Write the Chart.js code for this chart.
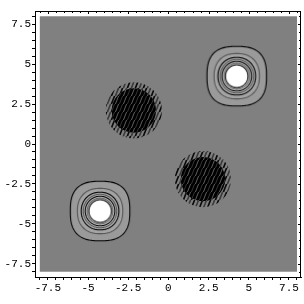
<!DOCTYPE html>
<html>
<head>
<meta charset="utf-8">
<script src="https://cdn.jsdelivr.net/npm/chart.js@4/dist/chart.umd.min.js"></script>
<style>
  body { margin: 0; background: #fff; }
</style>
</head>
<body>
<canvas id="contour_chart" width="304" height="304"></canvas>
<script>
// plotted region of the function (the grey square)
var plotRange = [-8, 8];
var tickLabels = [-7.5, -5, -2.5, 0, 2.5, 5, 7.5];

// the two maxima (white centres) and the two noisy minima
var peakX = [4.25, -4.25];
var peakY = [4.25, -4.2];
var blobX = [-2.15, 2.15];
var blobY = [2.1, -2.2];

// contour extent around each maximum, outermost first (data units)
var ringRadius = [1.85, 1.41, 1.17, 1.04, 0.92, 0.8, 0.7, 0.6];
// radius of the noisy region and its solid core
var blobRadius = [1.75, 1.38];

// styles for the rings (exponent of the rounded-square shape, 2 = circle)
var ringPower = [2.7, 2.3, 2.1, 2, 2, 2, 2, 2];
var ringFill = ['#9a9a9a', '#a4a4a4', '#aeaeae', '#b8b8b8', '#c4c4c4', '#d2d2d2', '#e4e4e4', '#ffffff'];
var ringLine = ['#000000', '#555555', '#000000', '#555555', '#000000', '#666666', '#000000', '#ffffff'];

var minorTicks = [];
for (var i = -16; i <= 16; i++) {
    minorTicks.push(i * 0.5);
}

function unitsToPx(chart, r) {
    var s = chart.scales.x;
    return Math.abs(s.getPixelForValue(r) - s.getPixelForValue(0));
}

var shapeCache = {};
function ringImage(R, n, fill, line) {
    var key = R.toFixed(2) + '_' + n + fill + line;
    if (shapeCache[key]) return shapeCache[key];
    var size = Math.ceil(2 * R) + 4;
    var c = document.createElement('canvas');
    c.width = size;
    c.height = size;
    var g = c.getContext('2d');
    var m = size / 2;
    g.beginPath();
    for (var t = 0; t <= 360; t += 2) {
        var a = t * Math.PI / 180;
        var ca = Math.cos(a), sa = Math.sin(a);
        var px = m + R * Math.sign(ca) * Math.pow(Math.abs(ca), 2 / n);
        var py = m + R * Math.sign(sa) * Math.pow(Math.abs(sa), 2 / n);
        if (t === 0) g.moveTo(px, py); else g.lineTo(px, py);
    }
    g.closePath();
    g.fillStyle = fill;
    g.fill();
    g.lineWidth = 1.1;
    g.strokeStyle = line;
    g.stroke();
    shapeCache[key] = c;
    return c;
}

function streakPattern(bg, colors, w) {
    var c = document.createElement('canvas');
    c.width = 8;
    c.height = 8;
    var g = c.getContext('2d');
    if (bg) {
        g.fillStyle = bg;
        g.fillRect(0, 0, 8, 8);
    }
    g.lineWidth = w;
    g.strokeStyle = colors[0];
    g.beginPath();
    g.moveTo(-1, 9); g.lineTo(3, -1);
    g.moveTo(7, 9); g.lineTo(11, -1);
    g.stroke();
    g.strokeStyle = colors[1];
    g.beginPath();
    g.moveTo(3, 9); g.lineTo(7, -1);
    g.stroke();
    return g.createPattern(c, 'repeat');
}

var centres = [];
for (var k = 0; k < peakX.length; k++) {
    centres.push({x: peakX[k], y: peakY[k]});
}
var blobs = [];
for (var k = 0; k < blobX.length; k++) {
    blobs.push({x: blobX[k], y: blobY[k]});
}

var datasets = [];
ringRadius.forEach(function (r, idx) {
    datasets.push({
        data: centres,
        order: 100 - idx,
        pointStyle: function (ctx) {
            return ringImage(unitsToPx(ctx.chart, r), ringPower[idx], ringFill[idx], ringLine[idx]);
        },
        pointRadius: function (ctx) { return unitsToPx(ctx.chart, r); },
        backgroundColor: ringFill[idx],
        borderColor: ringLine[idx],
        borderWidth: 1
    });
});
blobRadius.forEach(function (r, idx) {
    datasets.push({
        data: blobs,
        order: 50 - idx,
        pointStyle: 'circle',
        pointRadius: function (ctx) { return unitsToPx(ctx.chart, r); },
        backgroundColor: idx === 0 ? streakPattern(null, ['#0a0a0a', '#3a3a3a'], 1.6)
                                   : streakPattern('#000000', ['#3a3a3a', '#6a6a6a'], 0.9),
        borderWidth: 0
    });
});

var greyPlane = {
    id: 'greyPlane',
    beforeDatasetsDraw: function (chart) {
        var x = chart.scales.x, y = chart.scales.y;
        var c = chart.ctx;
        var x0 = x.getPixelForValue(plotRange[0]), x1 = x.getPixelForValue(plotRange[1]);
        var y0 = y.getPixelForValue(plotRange[1]), y1 = y.getPixelForValue(plotRange[0]);
        c.save();
        c.fillStyle = '#808080';
        c.fillRect(x0, y0, x1 - x0, y1 - y0);
        c.restore();
    }
};

// top and right frame with inward ticks
var frame = {
    id: 'frame',
    afterDraw: function (chart) {
        var a = chart.chartArea;
        var x = chart.scales.x, y = chart.scales.y;
        var c = chart.ctx;
        c.save();
        c.strokeStyle = '#000';
        c.lineWidth = 1;
        c.beginPath();
        c.moveTo(a.left, a.top + 0.5); c.lineTo(a.right, a.top + 0.5);
        c.moveTo(a.right - 0.5, a.top); c.lineTo(a.right - 0.5, a.bottom);
        minorTicks.forEach(function (v) {
            var len = tickLabels.indexOf(v) >= 0 ? 3 : 2;
            var px = Math.round(x.getPixelForValue(v)) + 0.5;
            c.moveTo(px, a.top); c.lineTo(px, a.top + len);
            var py = Math.round(y.getPixelForValue(v)) + 0.5;
            c.moveTo(a.right, py); c.lineTo(a.right - len, py);
        });
        c.stroke();
        c.restore();
    }
};

function axisOptions(pos, min, max) {
    return {
        type: 'linear',
        position: pos,
        min: min,
        max: max,
        afterBuildTicks: function (s) {
            s.ticks = minorTicks.map(function (v) { return {value: v}; });
        },
        ticks: {
            autoSkip: false,
            maxRotation: 0,
            padding: 1,
            color: '#000',
            font: {family: 'Liberation Mono', size: 11},
            callback: function (v) {
                return tickLabels.indexOf(v) >= 0 ? String(v) : '';
            }
        },
        grid: {drawOnChartArea: false, tickLength: 3, color: '#000', lineWidth: 1},
        border: {color: '#000', width: 1},
        afterFit: function (s) {
            if (pos === 'left') s.width = 35;
            else s.height = 27;
        }
    };
}

var ctx = document.getElementById('contour_chart');
var myChart = new Chart(ctx, {
    type: 'scatter',
    data: {datasets: datasets},
    options: {
        responsive: false,
        animation: false,
        events: [],
        layout: {padding: {top: 11, right: 3, left: 0, bottom: 0}},
        plugins: {
            legend: {display: false},
            tooltip: {enabled: false}
        },
        scales: {
            x: axisOptions('bottom', -8.3, 8.25),
            y: axisOptions('left', -8.33, 8.33)
        }
    },
    plugins: [greyPlane, frame]
});
</script>
</body>
</html>
